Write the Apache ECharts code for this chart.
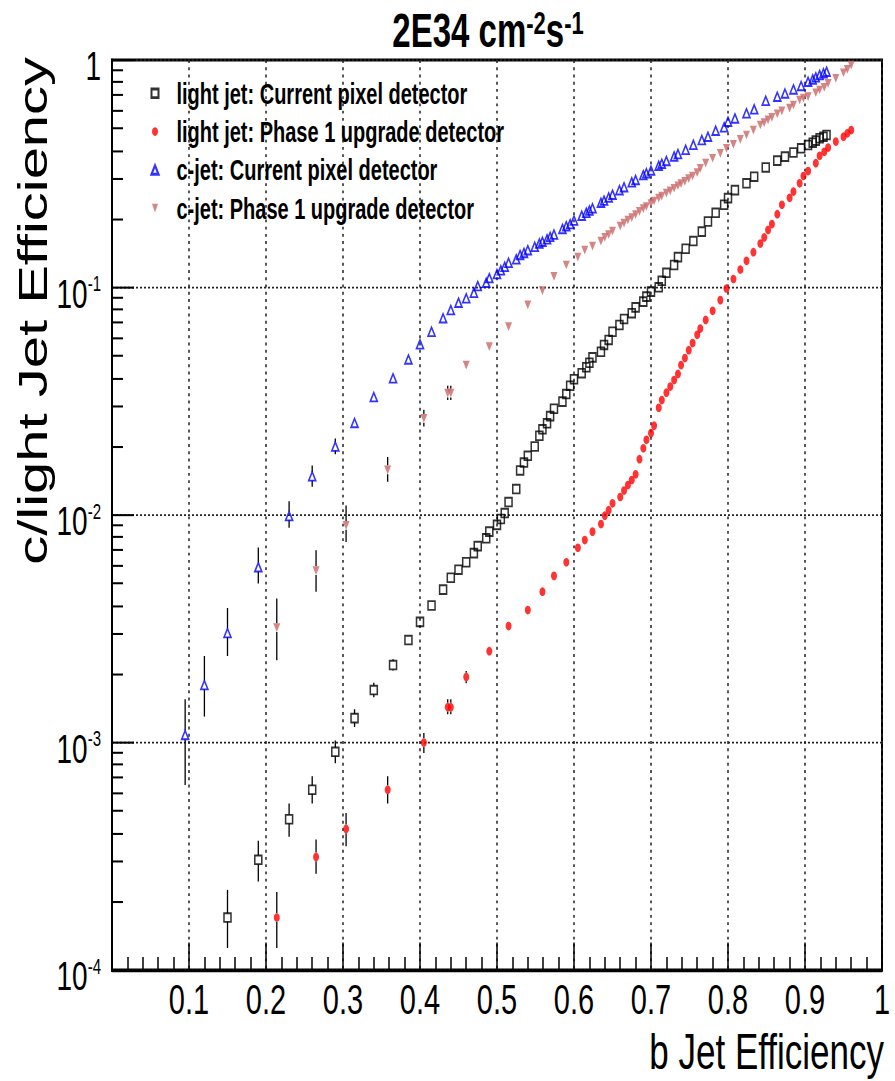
<!DOCTYPE html>
<html>
<head>
<meta charset="utf-8">
<script src="https://cdn.jsdelivr.net/npm/echarts@6/dist/echarts.min.js"></script>
<style>
  html, body { margin: 0; padding: 0; background: #fff; }
  #wrap { width: 895px; height: 1081px; overflow: hidden; }
  /* the original plot is stretched vertically, so draw at 746px and stretch */
  #chart { width: 895px; height: 746px; transform: scaleY(1.44906); transform-origin: 0 0; }
</style>
</head>
<body>
<div id="wrap"><div id="chart"></div></div>
<script>
// b jet efficiency working points, current pixel detector (light + c share them)
const xCurrent = [0.095, 0.12, 0.15, 0.19, 0.23, 0.26, 0.29, 0.315, 0.34, 0.365,
  0.385, 0.40, 0.415, 0.43, 0.44, 0.45, 0.46, 0.47, 0.475, 0.486,
  0.49, 0.50, 0.505, 0.51, 0.515, 0.525, 0.53, 0.535, 0.54, 0.549,
  0.555, 0.559, 0.565, 0.569, 0.574, 0.585, 0.59, 0.595, 0.60, 0.61,
  0.616, 0.62, 0.624, 0.635, 0.639, 0.645, 0.65, 0.659, 0.665, 0.675,
  0.68, 0.69, 0.694, 0.70, 0.71, 0.714, 0.72, 0.73, 0.735, 0.745,
  0.755, 0.766, 0.774, 0.784, 0.795, 0.80, 0.809, 0.824, 0.834, 0.849,
  0.864, 0.874, 0.885, 0.895, 0.904, 0.91, 0.914, 0.919, 0.924, 0.928];

const lightCurrent = [null, null, 1.7e-4, 3.05e-4, 4.6e-4, 6.2e-4, 9.1e-4, 1.28e-3, 1.7e-3, 2.19e-3,
  2.82e-3, 3.39e-3, 4.0e-3, 4.7e-3, 5.3e-3, 5.75e-3, 6.2e-3, 6.8e-3, 7.3e-3, 7.9e-3,
  8.45e-3, 9.05e-3, 9.6e-3, 1.02e-2, 1.14e-2, 1.3e-2, 1.57e-2, 1.7e-2, 1.82e-2, 2.0e-2,
  2.23e-2, 2.38e-2, 2.53e-2, 2.72e-2, 2.93e-2, 3.15e-2, 3.4e-2, 3.7e-2, 3.95e-2, 4.2e-2,
  4.46e-2, 4.67e-2, 4.93e-2, 5.22e-2, 5.59e-2, 5.88e-2, 6.39e-2, 6.84e-2, 7.27e-2, 7.71e-2,
  8.18e-2, 8.67e-2, 9.12e-2, 9.59e-2, 0.1002, 0.107, 0.116, 0.1256, 0.136, 0.148,
  0.16, 0.176, 0.195, 0.213, 0.231, 0.247, 0.268, 0.287, 0.307, 0.337,
  0.361, 0.376, 0.392, 0.409, 0.423, 0.433, 0.442, 0.453, 0.46, 0.468];

const cCurrent = [1.08e-3, 1.79e-3, 3.03e-3, 5.9e-3, 9.9e-3, 1.48e-2, 2.0e-2, 2.54e-2, 3.3e-2, 3.99e-2,
  4.83e-2, 5.63e-2, 6.39e-2, 7.33e-2, 7.96e-2, 8.58e-2, 8.97e-2, 9.48e-2, 0.1015, 0.105,
  0.11, 0.1146, 0.119, 0.1234, 0.1285, 0.133, 0.139, 0.142, 0.146, 0.151,
  0.156, 0.159, 0.163, 0.167, 0.171, 0.181, 0.186, 0.19, 0.197, 0.207,
  0.213, 0.218, 0.223, 0.236, 0.241, 0.249, 0.256, 0.268, 0.276, 0.29,
  0.297, 0.312, 0.318, 0.327, 0.343, 0.35, 0.36, 0.377, 0.386, 0.403,
  0.424, 0.445, 0.46, 0.489, 0.506, 0.536, 0.554, 0.583, 0.607, 0.662,
  0.69, 0.713, 0.743, 0.769, 0.803, 0.822, 0.839, 0.859, 0.874, 0.889];

// working points, phase 1 upgrade detector
const xPhase1 = [0.214, 0.265, 0.304, 0.358, 0.405, 0.436, 0.44, 0.46, 0.49, 0.515,
  0.54, 0.559, 0.574, 0.59, 0.605, 0.614, 0.624, 0.635, 0.64, 0.645,
  0.65, 0.66, 0.665, 0.67, 0.675, 0.68, 0.685, 0.69, 0.694, 0.70,
  0.704, 0.71, 0.714, 0.72, 0.725, 0.73, 0.735, 0.739, 0.744, 0.749,
  0.754, 0.76, 0.764, 0.771, 0.78, 0.79, 0.798, 0.807, 0.816, 0.824,
  0.833, 0.842, 0.847, 0.852, 0.857, 0.864, 0.87, 0.88, 0.885, 0.893,
  0.898, 0.904, 0.914, 0.919, 0.925, 0.93, 0.94, 0.95, 0.955, 0.96];

const lightPhase1 = [1.7e-4, 3.14e-4, 4.17e-4, 6.2e-4, 1.0e-3, 1.43e-3, 1.43e-3, 1.94e-3, 2.52e-3, 3.25e-3,
  3.82e-3, 4.6e-3, 5.4e-3, 6.2e-3, 7.18e-3, 7.76e-3, 8.45e-3, 9.12e-3, 9.93e-3, 1.05e-2,
  1.125e-2, 1.2e-2, 1.28e-2, 1.355e-2, 1.425e-2, 1.51e-2, 1.76e-2, 1.965e-2, 2.14e-2, 2.29e-2,
  2.47e-2, 2.96e-2, 3.2e-2, 3.45e-2, 3.67e-2, 3.92e-2, 4.17e-2, 4.56e-2, 4.9e-2, 5.3e-2,
  5.7e-2, 6.2e-2, 6.6e-2, 7.2e-2, 7.9e-2, 8.8e-2, 9.9e-2, 0.109, 0.12, 0.131,
  0.143, 0.156, 0.166, 0.179, 0.19, 0.21, 0.231, 0.248, 0.264, 0.287,
  0.309, 0.325, 0.352, 0.379, 0.395, 0.412, 0.438, 0.46, 0.476, 0.492];

const cPhase1 = [3.2e-3, 5.7e-3, 9.0e-3, 1.58e-2, 2.66e-2, 3.43e-2, 3.43e-2, 4.56e-2, 5.5e-2, 6.73e-2,
  8.38e-2, 9.68e-2, 0.112, 0.1256, 0.136, 0.146, 0.152, 0.16, 0.166, 0.171,
  0.177, 0.186, 0.192, 0.198, 0.203, 0.209, 0.216, 0.222, 0.227, 0.234,
  0.24, 0.247, 0.252, 0.26, 0.266, 0.273, 0.28, 0.286, 0.293, 0.301,
  0.309, 0.32, 0.334, 0.352, 0.37, 0.389, 0.409, 0.426, 0.448, 0.468,
  0.492, 0.518, 0.53, 0.545, 0.56, 0.58, 0.598, 0.614, 0.634, 0.667,
  0.68, 0.69, 0.718, 0.738, 0.758, 0.79, 0.831, 0.879, 0.91, 0.95];

// visible error bars: [x, low, high]
const errLightCurrent = [[0.15, 1.25e-4, 2.25e-4], [0.19, 2.45e-4, 3.7e-4], [0.23, 3.85e-4, 5.4e-4],
  [0.26, 5.4e-4, 7.1e-4], [0.29, 8.1e-4, 1.02e-3], [0.315, 1.17e-3, 1.4e-3],
  [0.34, 1.58e-3, 1.83e-3], [0.365, 2.07e-3, 2.32e-3]];
const errLightPhase1 = [[0.214, 1.25e-4, 2.2e-4], [0.265, 2.65e-4, 3.75e-4], [0.304, 3.5e-4, 4.9e-4],
  [0.358, 5.4e-4, 7.1e-4], [0.405, 9.0e-4, 1.1e-3], [0.436, 1.33e-3, 1.55e-3],
  [0.44, 1.33e-3, 1.55e-3], [0.46, 1.82e-3, 2.06e-3]];
const errCCurrent = [[0.095, 6.5e-4, 1.55e-3], [0.12, 1.3e-3, 2.4e-3], [0.15, 2.4e-3, 3.9e-3],
  [0.19, 5.0e-3, 7.2e-3], [0.23, 8.8e-3, 1.15e-2], [0.26, 1.33e-2, 1.65e-2], [0.29, 1.85e-2, 2.17e-2]];
const errCPhase1 = [[0.214, 2.3e-3, 4.3e-3], [0.265, 4.6e-3, 7.0e-3], [0.304, 7.6e-3, 1.1e-2],
  [0.358, 1.4e-2, 1.8e-2], [0.405, 2.45e-2, 2.9e-2], [0.436, 3.2e-2, 3.7e-2], [0.44, 3.2e-2, 3.7e-2]];

const seriesNames = [
  "light jet: Current pixel detector",
  "light jet: Phase 1 upgrade detector",
  "c-jet: Current pixel detector",
  "c-jet: Phase 1 upgrade detector",
];
const titleText = "{b|2E34 cm}{s|-2}{b|s}{s|-1}";
const xTitle = "b Jet Efficiency";
const yTitle = "c/light Jet Efficiency";

const font = "Liberation Sans, Arial, Helvetica, sans-serif";

// 2..9 x 10^n, for the short ticks of the log axis
const yMinorTicks = [];
for (let e = -4; e < 0; e++) {
  for (let k = 2; k <= 9; k++) yMinorTicks.push(+(k * Math.pow(10, e)).toPrecision(3));
}

const pairs = (xs, ys) => {
  const out = [];
  xs.forEach((x, i) => { if (ys[i] != null) out.push([x, ys[i]]); });
  return out;
};
// error bar rows get the point value too, so the bar can stop at the marker
const errRows = (xs, ys, errs) => errs.map(e => [e[0], e[1], e[2], ys[xs.indexOf(e[0])]]);

const renderErr = (params, api) => {
  const x = api.value(0);
  const lo = api.coord([x, api.value(1)]);
  const hi = api.coord([x, api.value(2)]);
  const c = api.coord([x, api.value(3)]);
  const gap = 3;
  const st = { stroke: "#000", lineWidth: 1.3 };
  const children = [];
  if (hi[1] < c[1] - gap) {
    children.push({ type: "line", shape: { x1: c[0], y1: hi[1], x2: c[0], y2: c[1] - gap }, style: st });
  }
  if (lo[1] > c[1] + gap) {
    children.push({ type: "line", shape: { x1: c[0], y1: c[1] + gap, x2: c[0], y2: lo[1] }, style: st });
  }
  return { type: "group", children };
};

const errSeries = (data) => ({
  type: "custom",
  renderItem: renderErr,
  data: data,
  encode: { x: 0, y: [1, 2, 3] },
  z: 1,
  silent: true,
});

const chart = echarts.init(document.getElementById("chart"), null, { renderer: "svg" });

const option = {
  animation: false,
  backgroundColor: "#fff",
  grid: {
    left: 112, right: 13, top: 41.4, bottom: 76.6,
    show: true, borderColor: "#000", borderWidth: 2,
    outerBoundsMode: "none",
  },
  legend: {
    orient: "vertical",
    left: 145.5,
    top: 49.4,
    itemWidth: 7,
    itemHeight: 6,
    itemGap: 6.4,
    selectedMode: false,
    data: seriesNames,
    formatter: (name) => "{p| }" + name,
    textStyle: {
      color: "#000", fontSize: 20, fontWeight: "bold", fontFamily: font, lineHeight: 20,
      rich: { p: { width: 13 } },
    },
  },
  graphic: [
    {
      type: "text", x: 488, y: 21,
      style: {
        text: titleText, align: "center", verticalAlign: "middle", fill: "#000",
        rich: {
          b: { fontSize: 33, fontWeight: "bold", lineHeight: 33, verticalAlign: "bottom", fontFamily: font, fill: "#000" },
          s: { fontSize: 22, fontWeight: "bold", lineHeight: 22, verticalAlign: "top", padding: [0, 0, 18, 0], fontFamily: font, fill: "#000" },
        },
      },
    },
    {
      type: "text", x: 884, y: 725.8,
      style: { text: xTitle, align: "right", verticalAlign: "middle", fontSize: 35, lineHeight: 30, fontFamily: font, fill: "#000" },
    },
    {
      type: "text", x: 33, y: 39.3, rotation: Math.PI / 2,
      style: { text: yTitle, align: "right", verticalAlign: "middle", fontSize: 40, fontFamily: font, fill: "#000" },
    },
  ],
  xAxis: {
    type: "value", min: 0, max: 1, interval: 0.1,
    axisLine: { show: true, onZero: false, lineStyle: { color: "#000", width: 2 } },
    axisTick: { show: true, inside: true, length: 19, lineStyle: { color: "#000", width: 1.5 } },
    minorTick: { show: true, splitNumber: 5, length: 9, lineStyle: { color: "#000", width: 1.5 } },
    axisLabel: {
      margin: 7.5, color: "#000", fontSize: 29, lineHeight: 26, fontFamily: font, showMaxLabel: true,
      formatter: (v) => (v === 0 ? "" : v === 1 ? "1" : v.toFixed(1)),
    },
    splitLine: { show: true, lineStyle: { color: "#222", width: 1.5, type: [2, 3] } },
  },
  yAxis: [
    {
      type: "log", logBase: 10, min: 1e-4, max: 1,
      axisLine: { show: true, onZero: false, lineStyle: { color: "#000", width: 2 } },
      axisTick: { show: true, inside: true, length: 22, lineStyle: { color: "#000", width: 1.4 } },
      axisLabel: {
        margin: 11, padding: [8, 0, 0, 0],
        formatter: (v) => {
          const e = Math.round(Math.log10(v));
          return e === 0 ? "{b|1}" : "{b|10}{s|" + e + "}";
        },
        rich: {
          b: { fontSize: 28, lineHeight: 28, fontFamily: font, color: "#000" },
          s: { fontSize: 15, lineHeight: 15, verticalAlign: "top", fontFamily: font, color: "#000" },
        },
      },
      splitLine: { show: true, lineStyle: { color: "#222", width: 1.2, type: [2, 2] } },
    },
    {
      type: "log", logBase: 10, min: 1e-4, max: 1, position: "left",
      axisLine: { show: false },
      axisTick: { show: true, inside: true, length: 11, customValues: yMinorTicks, lineStyle: { color: "#000", width: 1.4 } },
      axisLabel: { show: false },
      splitLine: { show: false },
    },
  ],
  series: [
    errSeries(errRows(xCurrent, lightCurrent, errLightCurrent)),
    errSeries(errRows(xPhase1, lightPhase1, errLightPhase1)),
    errSeries(errRows(xCurrent, cCurrent, errCCurrent)),
    errSeries(errRows(xPhase1, cPhase1, errCPhase1)),
    {
      name: seriesNames[0], type: "scatter", z: 3,
      symbol: "rect", symbolSize: [7, 6],
      itemStyle: { color: "rgba(0,0,0,0)", borderColor: "#000", borderWidth: 1.4 },
      data: pairs(xCurrent, lightCurrent),
    },
    {
      name: seriesNames[1], type: "scatter", z: 3,
      symbol: "circle", symbolSize: 6,
      itemStyle: { color: "#ff0000" },
      data: pairs(xPhase1, lightPhase1),
    },
    {
      name: seriesNames[2], type: "scatter", z: 3,
      symbol: "triangle", symbolSize: [7, 6],
      itemStyle: { color: "rgba(0,0,0,0)", borderColor: "#0000ff", borderWidth: 1.4 },
      data: pairs(xCurrent, cCurrent),
    },
    {
      name: seriesNames[3], type: "scatter", z: 3,
      symbol: "path://M0,0L10,0L5,10Z", symbolSize: [7, 6],
      itemStyle: { color: "#cc6666" },
      data: pairs(xPhase1, cPhase1),
    },
  ],
};

chart.setOption(option);
</script>
</body>
</html>
